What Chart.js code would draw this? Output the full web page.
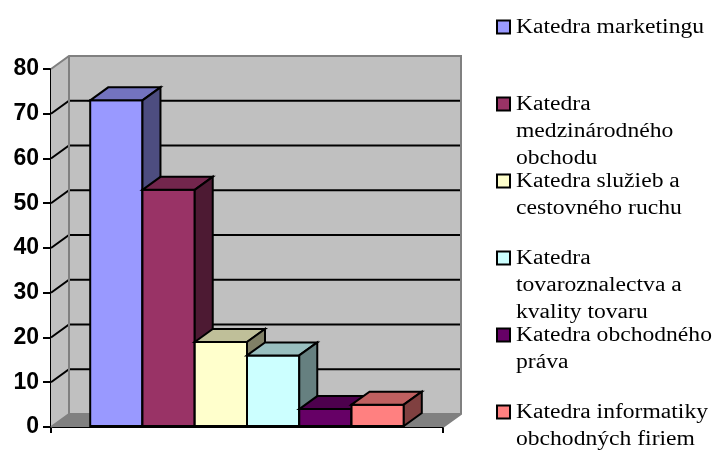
<!DOCTYPE html>
<html><head><meta charset="utf-8">
<script src="https://cdn.jsdelivr.net/npm/chart.js@4/dist/chart.umd.min.js"></script>
<style>html,body{margin:0;padding:0;background:#fff;}canvas{display:block}</style>
</head><body>
<canvas id="c" width="717" height="450"></canvas>
<script>
// ---- data ----
const categories = [""];
const seriesNames = [
  ["Katedra marketingu"],
  ["Katedra", "medzinárodného", "obchodu"],
  ["Katedra služieb a", "cestovného ruchu"],
  ["Katedra", "tovaroznalectva a", "kvality tovaru"],
  ["Katedra obchodného", "práva"],
  ["Katedra informatiky", "obchodných firiem"]
];
const seriesValues = [73, 53, 19, 16, 4, 5];
const yTickValues = [0, 10, 20, 30, 40, 50, 60, 70, 80];
const seriesColors = ["#9999FF", "#993366", "#FFFFCC", "#CCFFFF", "#660066", "#FF8080"];

// ---- style ----
const DX = 18, DY = 13;
function shade(hex, f) {
  const n = parseInt(hex.slice(1), 16);
  const r = Math.round(((n >> 16) & 255) * f), g = Math.round(((n >> 8) & 255) * f), b = Math.round((n & 255) * f);
  return `rgb(${r},${g},${b})`;
}
function poly(ctx, pts, fill, stroke, lw) {
  ctx.beginPath();
  ctx.moveTo(pts[0][0], pts[0][1]);
  for (let i = 1; i < pts.length; i++) ctx.lineTo(pts[i][0], pts[i][1]);
  ctx.closePath();
  if (fill) { ctx.fillStyle = fill; ctx.fill(); }
  if (stroke) { ctx.strokeStyle = stroke; ctx.lineWidth = lw; ctx.stroke(); }
}

const wallsPlugin = {
  id: 'walls',
  beforeDatasetsDraw(chart) {
    const ctx = chart.ctx, a = chart.chartArea, ys = chart.scales.y;
    const L = a.left, R = a.right, T = a.top, B = a.bottom;
    ctx.save();
    ctx.lineJoin = 'miter';
    poly(ctx, [[L, B], [L, T], [L + DX, T - DY], [L + DX, B - DY]], '#C0C0C0');
    poly(ctx, [[L + DX, T - DY], [R + DX, T - DY], [R + DX, B - DY], [L + DX, B - DY]], '#C0C0C0');
    poly(ctx, [[L, B], [L + DX, B - DY], [R + DX, B - DY], [R, B]], '#808080');
    // gridlines
    ctx.strokeStyle = '#000'; ctx.lineWidth = 2;
    yTickValues.forEach(v => {
      if (v === ys.min || v === ys.max) return;
      const y = ys.getPixelForValue(v);
      ctx.beginPath(); ctx.moveTo(L, y); ctx.lineTo(L + DX, y - DY); ctx.lineTo(R + DX, y - DY); ctx.stroke();
    });
    // wall borders
    ctx.strokeStyle = '#808080'; ctx.lineWidth = 2;
    ctx.beginPath();
    ctx.moveTo(L, T); ctx.lineTo(L + DX, T - DY); ctx.lineTo(R + DX, T - DY); ctx.lineTo(R + DX, B - DY); ctx.lineTo(R, B);
    ctx.moveTo(L + DX, T - DY); ctx.lineTo(L + DX, B - DY); ctx.lineTo(R + DX, B - DY);
    ctx.moveTo(L, B); ctx.lineTo(L + DX, B - DY);
    ctx.stroke();
    ctx.restore();
  },
  afterDatasetsDraw(chart) {
    const ctx = chart.ctx;
    ctx.save();
    ctx.lineJoin = 'miter';
    chart.data.datasets.forEach((ds, i) => {
      const meta = chart.getDatasetMeta(i);
      const el = meta.data[0];
      const p = el.getProps(['x', 'y', 'width', 'base'], true);
      const l = p.x - p.width / 2, r = p.x + p.width / 2, t = p.y, b = p.base;
      const c = seriesColors[i];
      poly(ctx, [[l, t], [r, t], [r, b], [l, b]], c, '#000', 2);
      poly(ctx, [[l, t], [l + DX, t - DY], [r + DX, t - DY], [r, t]], shade(c, 0.75), '#000', 2);
      poly(ctx, [[r, t], [r + DX, t - DY], [r + DX, b - DY], [r, b]], shade(c, 0.5), '#000', 2);
    });
    ctx.restore();
  },
  afterDraw(chart) {
    const ctx = chart.ctx;
    ctx.save();
    const x0 = 497, y0 = 27, slot = 77, lh = 27, sq = 13;
    chart.data.datasets.forEach((ds, i) => {
      const yc = y0 + i * slot;
      ctx.fillStyle = seriesColors[i];
      ctx.fillRect(x0, yc - sq / 2, sq, sq);
      ctx.strokeStyle = '#000'; ctx.lineWidth = 2;
      ctx.strokeRect(x0, yc - sq / 2, sq, sq);
      ctx.fillStyle = '#000';
      ctx.font = '20px "Liberation Serif", "Times New Roman", serif';
      ctx.textBaseline = 'middle';
      ctx.textAlign = 'left';
      seriesNames[i].forEach((line, j) => {
        ctx.save();
        ctx.translate(516, yc + j * lh + 1);
        ctx.scale(1.18, 1);
        ctx.fillText(line, 0, 0);
        ctx.restore();
      });
    });
    ctx.restore();
  }
};

const datasets = seriesNames.map((n, i) => ({
  label: n.join(' '),
  data: [seriesValues[i]],
  backgroundColor: seriesColors[i],
  borderColor: '#000',
  borderWidth: 2,
  borderSkipped: false,
  barPercentage: 1.0,
  categoryPercentage: 0.8
}));

new Chart(document.getElementById('c'), {
  type: 'bar',
  data: { labels: categories, datasets },
  options: {
    responsive: false,
    animation: false,
    layout: { padding: { top: 69, right: 274, bottom: 0, left: 0 } },
    plugins: { legend: { display: false }, tooltip: { enabled: false } },
    scales: {
      x: {
        afterFit(s) { s.height = 23; },
        ticks: { display: false },
        grid: { drawOnChartArea: false, drawTicks: true, tickLength: 6, color: '#000', lineWidth: 2, offset: true },
        border: { display: true, color: '#000', width: 2 }
      },
      y: {
        min: 0, max: 80,
        afterFit(s) { s.width = 51; },
        afterBuildTicks(s) { s.ticks = yTickValues.map(v => ({ value: v })); },
        ticks: { color: '#000', padding: 4, font: { family: '"Liberation Sans", Arial, sans-serif', size: 23, weight: 'bold' } },
        grid: { drawOnChartArea: false, drawTicks: true, tickLength: 8, color: '#000', lineWidth: 2 },
        border: { display: true, color: '#000', width: 2 }
      }
    }
  },
  plugins: [wallsPlugin]
});
</script>
</body></html>
